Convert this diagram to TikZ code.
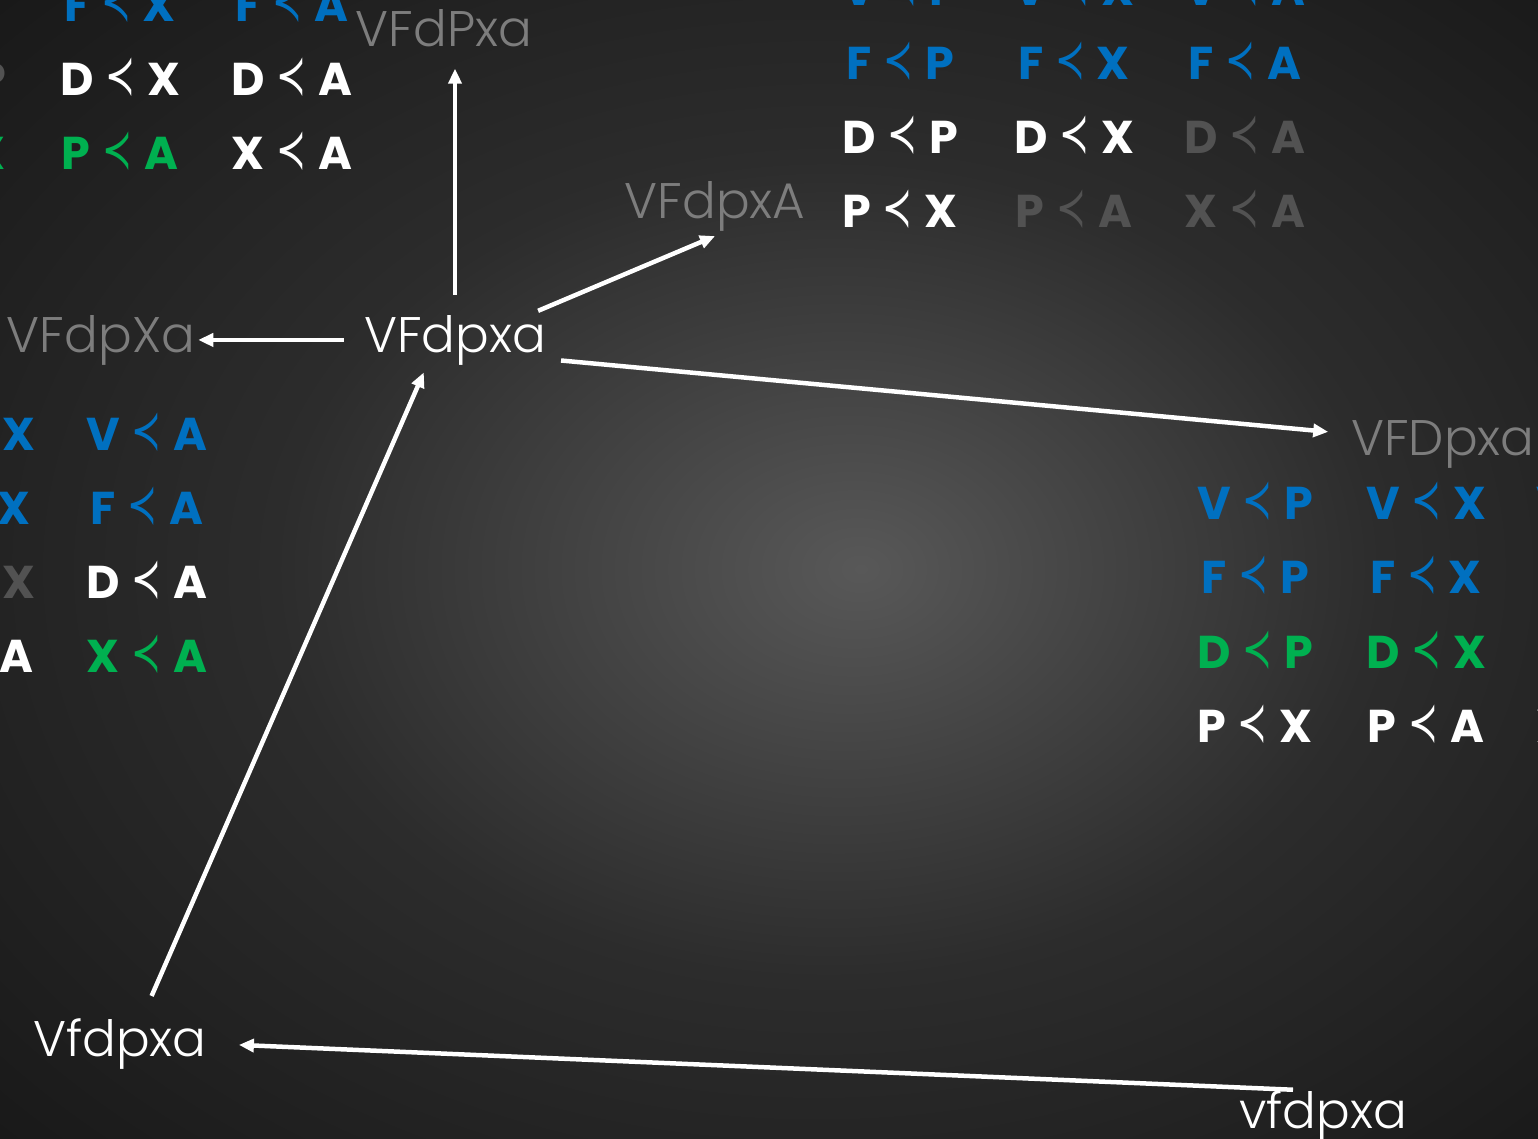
\documentclass[tikz,border=0pt]{standalone}
\usepackage{fontspec}
\usepackage{graphicx}
\setmainfont{Poppins}
\newfontfamily\thinfont{Poppins Light}
\newfontfamily\signfont{DejaVu Sans}
\usetikzlibrary{arrows.meta, positioning, calc}

\definecolor{pairblue}{RGB}{0,112,192}
\definecolor{pairgreen}{RGB}{0,176,80}
\definecolor{pairgrey}{RGB}{82,82,82}
\definecolor{taggrey}{RGB}{125,125,125}
\definecolor{bgin}{RGB}{88,88,88}
\definecolor{bgmid}{RGB}{44,44,44}
\definecolor{bgout}{RGB}{25,25,25}

% soft spot light behind the graph
\pgfdeclareradialshading{backdrop}{\pgfpoint{3bp}{0bp}}{color(0bp)=(bgin); color(18bp)=(bgmid); color(36bp)=(bgout); color(50bp)=(bgout)}

% narrow precedence sign
\newcommand{\prc}{\hspace{2pt}\raisebox{1pt}{\scalebox{0.78}[1.2]{\signfont\mdseries ≺}}\hspace{2pt}}

\begin{document}
\begin{tikzpicture}[
    x=1pt, y=-1pt,
    pair/.style={text=#1, font=\fontsize{46}{50}\selectfont\bfseries, inner sep=0pt, anchor=base},
    pair/.default={white},
    tag/.style={text=#1, font=\thinfont\fontsize{50}{54}\selectfont, inner sep=0pt, anchor=base},
    tag/.default={taggrey},
    link/.style={-{Triangle[length=15pt, width=13pt]}, line width=4.5pt, white},
]

\useasboundingbox (0,0) rectangle (1538,1138);
\clip (0,0) rectangle (1538,1138);
\shade[shading=backdrop] (0,0) rectangle (1538,1138);

% ── States ──
\node[tag=white] (main) at (455,352) {VFdpxa};
\node[tag] (tagP) at (444,46) {VFdPxa};
\node[tag] (tagA) at (715,218) {VFdpxA};
\node[tag] (tagX) at (101,352) {VFdpXa};
\node[tag] (tagD) at (1443,455) {VFDpxa};
\node[tag=white] (low) at (120,1056) {Vfdpxa};
\node[tag=white] (base) at (1323,1128) {vfdpxa};

% ── Orders of VFdPxa ──
\node[pair=pairblue] (up-fx) at (120,21) {F \prc{} X};
\node[pair=pairblue] (up-fa) at (292,21) {F \prc{} A};
\node[pair=pairgrey] (up-dp) at (-52,95) {D \prc{} P};
\node[pair] (up-dx) at (120,95) {D \prc{} X};
\node[pair] (up-da) at (292,95) {D \prc{} A};
\node[pair=pairgreen] (up-px) at (-52,169) {P \prc{} X};
\node[pair=pairgreen] (up-pa) at (120,169) {P \prc{} A};
\node[pair] (up-xa) at (292,169) {X \prc{} A};

% ── Orders of VFdpxA ──
\node[pair=pairblue] (rt-vp) at (900,5) {V \prc{} P};
\node[pair=pairblue] (rt-vx) at (1074,5) {V \prc{} X};
\node[pair=pairblue] (rt-va) at (1245,5) {V \prc{} A};
\node[pair=pairblue] (rt-fp) at (900,79) {F \prc{} P};
\node[pair=pairblue] (rt-fx) at (1074,79) {F \prc{} X};
\node[pair=pairblue] (rt-fa) at (1245,79) {F \prc{} A};
\node[pair] (rt-dp) at (900,153) {D \prc{} P};
\node[pair] (rt-dx) at (1074,153) {D \prc{} X};
\node[pair=pairgrey] (rt-da) at (1245,153) {D \prc{} A};
\node[pair] (rt-px) at (900,227) {P \prc{} X};
\node[pair=pairgrey] (rt-pa) at (1074,227) {P \prc{} A};
\node[pair=pairgrey] (rt-xa) at (1245,227) {X \prc{} A};

% ── Orders of VFdpXa ──
\node[pair=pairblue] (lf-vx) at (-25,450) {V \prc{} X};
\node[pair=pairblue] (lf-va) at (147,450) {V \prc{} A};
\node[pair=pairblue] (lf-fx) at (-25,524) {F \prc{} X};
\node[pair=pairblue] (lf-fa) at (147,524) {F \prc{} A};
\node[pair=pairgrey] (lf-dx) at (-25,598) {D \prc{} X};
\node[pair] (lf-da) at (147,598) {D \prc{} A};
\node[pair] (lf-pa) at (-25,672) {P \prc{} A};
\node[pair=pairgreen] (lf-xa) at (147,672) {X \prc{} A};

% ── Orders of VFDpxa ──
\node[pair=pairblue] (fr-vp) at (1255,519) {V \prc{} P};
\node[pair=pairblue] (fr-vx) at (1426,519) {V \prc{} X};
\node[pair=pairblue] (fr-va) at (1597,519) {V \prc{} A};
\node[pair=pairblue] (fr-fp) at (1255,593) {F \prc{} P};
\node[pair=pairblue] (fr-fx) at (1426,593) {F \prc{} X};
\node[pair=pairgreen] (fr-dp) at (1255,668) {D \prc{} P};
\node[pair=pairgreen] (fr-dx) at (1426,668) {D \prc{} X};
\node[pair=pairgreen] (fr-da) at (1597,668) {D \prc{} A};
\node[pair] (fr-px) at (1255,742) {P \prc{} X};
\node[pair] (fr-pa) at (1426,742) {P \prc{} A};
\node[pair] (fr-xa) at (1597,742) {X \prc{} A};

% ── Moves ──
\draw[link, shorten <=20pt, shorten >=22pt] (main.north) -- (main.north |- tagP.south);
\draw[link] ([xshift=-8pt, yshift=4pt]main.north east) -- ([yshift=-5pt]tagA.south);
\draw[link, shorten <=20pt, shorten >=3pt] (main.west) -- (tagX.east);
\draw[link, shorten <=15pt, shorten >=23pt] ([yshift=6pt]main.south east) -- ([yshift=10pt]tagD.west);
\draw[link, shorten <=24pt, shorten >=8pt] ([xshift=22pt]low.north) -- ([xshift=-28pt]main.south);
\draw[link, shorten <=5pt, shorten >=32pt] ([xshift=-25pt]base.north) -- (low.east);

\end{tikzpicture}
\end{document}
